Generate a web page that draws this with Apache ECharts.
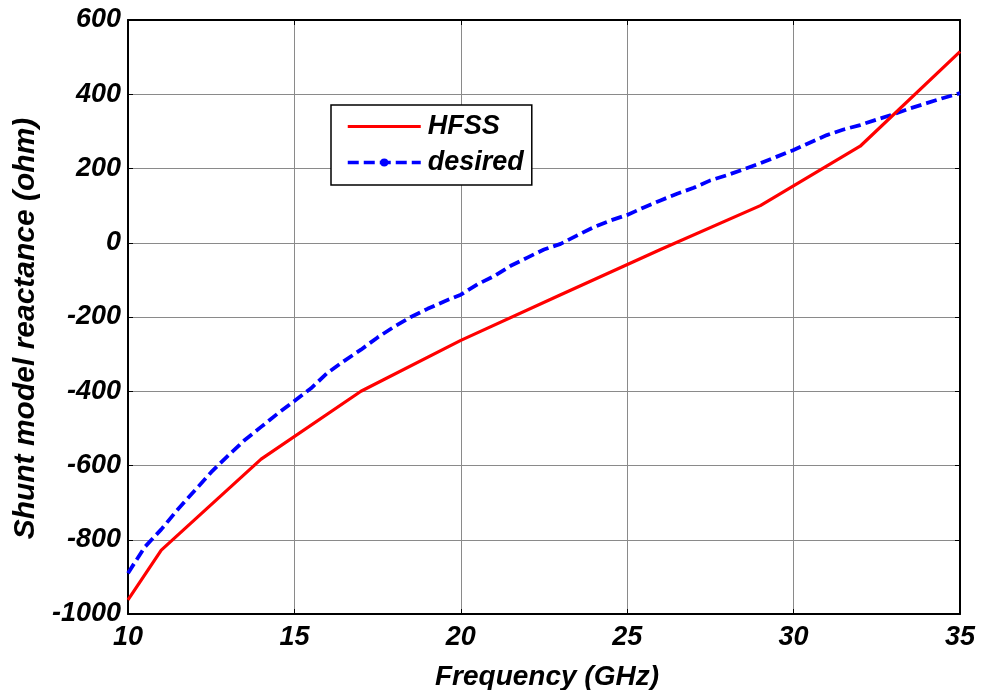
<!DOCTYPE html>
<html>
<head>
<meta charset="utf-8">
<script src="https://cdn.jsdelivr.net/npm/echarts@6/dist/echarts.min.js"></script>
<style>
  html, body { margin: 0; padding: 0; background: #fff; }
  #chart { width: 981px; height: 690px; }
</style>
</head>
<body>
<div id="chart"></div>
<script>
// Frequency axis ticks (GHz) and reactance axis ticks (ohm)
const xTicks = [10, 15, 20, 25, 30, 35];
const yTicks = [-1000, -800, -600, -400, -200, 0, 200, 400, 600];

// HFSS simulated shunt reactance (ohm)
const hfssFreq = [10, 11, 14, 17, 20, 23, 26, 29, 32, 35];
const hfssX = [-962, -828, -583, -400, -263, -140, -18, 100, 260, 515];

// Desired shunt reactance (ohm)
const desiredFreq = [10, 10.5, 11, 11.5, 12, 12.5, 13, 13.5, 14, 14.5, 15, 15.5, 16, 16.5, 17, 17.5,
  18, 18.5, 19, 19.5, 20, 20.5, 21, 21.5, 22, 22.5, 23, 23.5, 24, 24.5, 25, 25.5, 26, 26.5,
  27, 27.5, 28, 28.5, 29, 29.5, 30, 30.5, 31, 31.5, 32, 32.5, 33, 33.5, 34, 34.5, 35];
const desiredX = [-890, -820, -772, -718, -668, -618, -574, -532, -496, -460, -426, -392, -350, -318,
  -288, -255, -226, -200, -178, -158, -140, -112, -90, -62, -40, -18, -3, 20, 42, 60, 75, 95,
  114, 132, 148, 168, 182, 198, 214, 232, 250, 270, 290, 305, 317, 332, 346, 362, 376, 390, 403];

const FONT = "'Liberation Sans', Arial, sans-serif";
const labelStyle = { fontFamily: FONT, fontWeight: 'bold', fontStyle: 'italic', fontSize: 27, color: '#000' };

const zip = (a, b) => a.map((v, i) => [v, b[i]]);
const plain = v => String(v);

const chart = echarts.init(document.getElementById('chart'), null, { renderer: 'canvas' });

const boxLine = { show: true, onZero: false, lineStyle: { color: '#000', width: 2 } };
const innerTick = { show: true, inside: true, length: 5, lineStyle: { color: '#000', width: 1 } };
const gridLine = { show: true, lineStyle: { color: '#8a8a8a', width: 1 } };

chart.setOption({
  animation: false,
  backgroundColor: '#fff',
  grid: { left: 128, top: 20, right: 21, bottom: 76, containLabel: false, outerBoundsMode: 'none' },
  legend: {
    left: 331, top: 105,
    orient: 'vertical',
    data: [
      { name: 'HFSS', itemStyle: { color: 'rgba(0,0,0,0)' }, lineStyle: { width: 3 } },
      { name: 'desired', lineStyle: { width: 3.5 } }
    ],
    itemWidth: 73, itemHeight: 10, itemGap: 9,
    padding: [8, 8, 9, 15],
    backgroundColor: '#fff',
    borderColor: '#000', borderWidth: 1.5, borderRadius: 0,
    textStyle: Object.assign({}, labelStyle, { padding: [0, 0, 0, 2] })
  },
  xAxis: [{
    type: 'value', min: xTicks[0], max: xTicks[xTicks.length - 1], interval: xTicks[1] - xTicks[0],
    axisLine: boxLine, axisTick: innerTick,
    axisLabel: Object.assign({}, labelStyle, { margin: 10, formatter: plain }),
    splitLine: gridLine,
    name: 'Frequency (GHz)', nameLocation: 'middle', nameGap: 49,
    nameTextStyle: Object.assign({}, labelStyle, { fontSize: 28, padding: [0, 0, 0, 6] })
  }, {
    type: 'value', position: 'top', min: xTicks[0], max: xTicks[xTicks.length - 1], interval: xTicks[1] - xTicks[0],
    axisLine: boxLine, axisTick: innerTick, axisLabel: { show: false }, splitLine: { show: false }
  }],
  yAxis: [{
    type: 'value', min: yTicks[0], max: yTicks[yTicks.length - 1], interval: yTicks[1] - yTicks[0],
    axisLine: boxLine, axisTick: innerTick,
    axisLabel: Object.assign({}, labelStyle, { margin: 7, formatter: plain }),
    splitLine: gridLine,
    name: 'Shunt model reactance (ohm)', nameLocation: 'middle', nameGap: 74,
    nameTextStyle: Object.assign({}, labelStyle, { fontSize: 30, padding: [0, 23, 0, 0] })
  }, {
    type: 'value', position: 'right', min: yTicks[0], max: yTicks[yTicks.length - 1], interval: yTicks[1] - yTicks[0],
    axisLine: boxLine, axisTick: innerTick, axisLabel: { show: false }, splitLine: { show: false }
  }],
  series: [{
    name: 'HFSS', type: 'line',
    data: zip(hfssFreq, hfssX),
    symbol: 'none',
    lineStyle: { color: '#ff0000', width: 3.2 },
    itemStyle: { color: '#ff0000' },
    z: 3
  }, {
    name: 'desired', type: 'line',
    data: zip(desiredFreq, desiredX),
    symbol: 'circle', symbolSize: 8, showSymbol: false,
    lineStyle: { color: '#0000ff', width: 3.8, type: [11, 5] },
    itemStyle: { color: '#0000ff' },
    z: 2
  }]
});
</script>
</body>
</html>
